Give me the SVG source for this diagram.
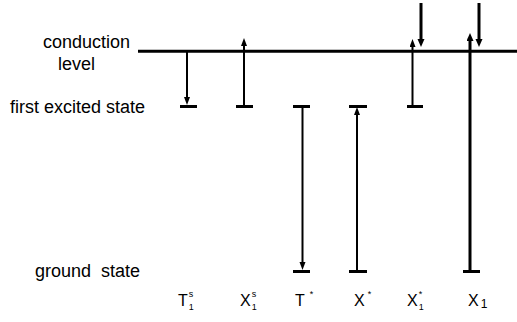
<svg xmlns="http://www.w3.org/2000/svg" width="517" height="322" viewBox="0 0 517 322">
  <style>
    .lbl { font-family: "Liberation Sans", Arial, sans-serif; font-size: 18px; fill: #000; }
    .sym { font-family: "Liberation Sans", Arial, sans-serif; font-size: 16px; fill: #000; }
    .sub { font-size: 9px; }
    .lvl { stroke: #000; stroke-width: 3; fill: none; }
    .tr { stroke: #000; stroke-width: 2; fill: none; marker-end: url(#head); }
    .tr3 { stroke: #000; stroke-width: 3; fill: none; marker-end: url(#head3); }
  </style>
  <defs>
    <!-- arrowheads: tip sits 6px beyond the line end so the stroke never pokes past the point -->
    <marker id="head" markerUnits="userSpaceOnUse" markerWidth="9" markerHeight="7" refX="2" refY="3" orient="auto">
      <path d="M0,0 L8,3 L0,6 z" fill="#000"/>
    </marker>
    <marker id="head3" markerUnits="userSpaceOnUse" markerWidth="10" markerHeight="8" refX="2" refY="3.5" orient="auto">
      <path d="M0,0 L8,3.5 L0,7 z" fill="#000"/>
    </marker>
  </defs>
  <rect width="517" height="322" fill="#fff"/>

  <!-- level labels -->
  <g id="labels">
    <text class="lbl" x="43" y="48">conduction</text>
    <text class="lbl" x="58" y="70">level</text>
    <text class="lbl" x="10" y="113">first excited state</text>
    <text class="lbl" x="35" y="277" xml:space="preserve">ground  state</text>
  </g>

  <!-- conduction level -->
  <g id="conduction">
    <line class="lvl" x1="138" y1="51.3" x2="517" y2="51.3"/>
  </g>

  <!-- energy levels per species -->
  <g id="T1s">
    <line class="lvl" x1="180" y1="106.5" x2="197" y2="106.5"/>
    <text class="sym" x="178" y="306">T<tspan class="sub" dx="1" dy="4">1</tspan><tspan class="sub" dx="-5" dy="-13">s</tspan></text>
  </g>
  <g id="X1s">
    <line class="lvl" x1="236" y1="106.5" x2="253" y2="106.5"/>
    <text class="sym" x="240" y="306">X<tspan class="sub" dx="1" dy="4">1</tspan><tspan class="sub" dx="-5" dy="-13">s</tspan></text>
  </g>
  <g id="Tstar">
    <line class="lvl" x1="293" y1="106.5" x2="310" y2="106.5"/>
    <line class="lvl" x1="293" y1="271.5" x2="310" y2="271.5"/>
    <text class="sym" x="295" y="306">T<tspan class="sub" dx="5" dy="-9">*</tspan></text>
  </g>
  <g id="Xstar">
    <line class="lvl" x1="349" y1="106.5" x2="367" y2="106.5"/>
    <line class="lvl" x1="349" y1="271.5" x2="367" y2="271.5"/>
    <text class="sym" x="354" y="306">X<tspan class="sub" dx="3" dy="-9">*</tspan></text>
  </g>
  <g id="X1star">
    <line class="lvl" x1="407" y1="106.5" x2="423" y2="106.5"/>
    <text class="sym" x="407" y="306">X<tspan class="sub" dx="1" dy="4">1</tspan><tspan class="sub" dx="-5" dy="-13">*</tspan></text>
  </g>
  <g id="X1">
    <line class="lvl" x1="463" y1="271.5" x2="480" y2="271.5"/>
    <text class="sym" x="468" y="306">X<tspan font-size="12" dx="2" dy="2">1</tspan></text>
  </g>

  <!-- transitions -->
  <g id="connectors">
    <line class="tr" x1="187" y1="52" x2="187" y2="99"/>
    <line class="tr" x1="244" y1="106" x2="244" y2="44"/>
    <line class="tr" x1="302.5" y1="107" x2="302.5" y2="264"/>
    <line class="tr" x1="357" y1="271" x2="357" y2="113"/>
    <line class="tr" x1="412.5" y1="106" x2="412.5" y2="45"/>
    <line class="tr3" x1="421" y1="3" x2="421" y2="41"/>
    <line class="tr3" x1="470" y1="271" x2="470" y2="39"/>
    <line class="tr3" x1="479" y1="3" x2="479" y2="41"/>
  </g>
</svg>
